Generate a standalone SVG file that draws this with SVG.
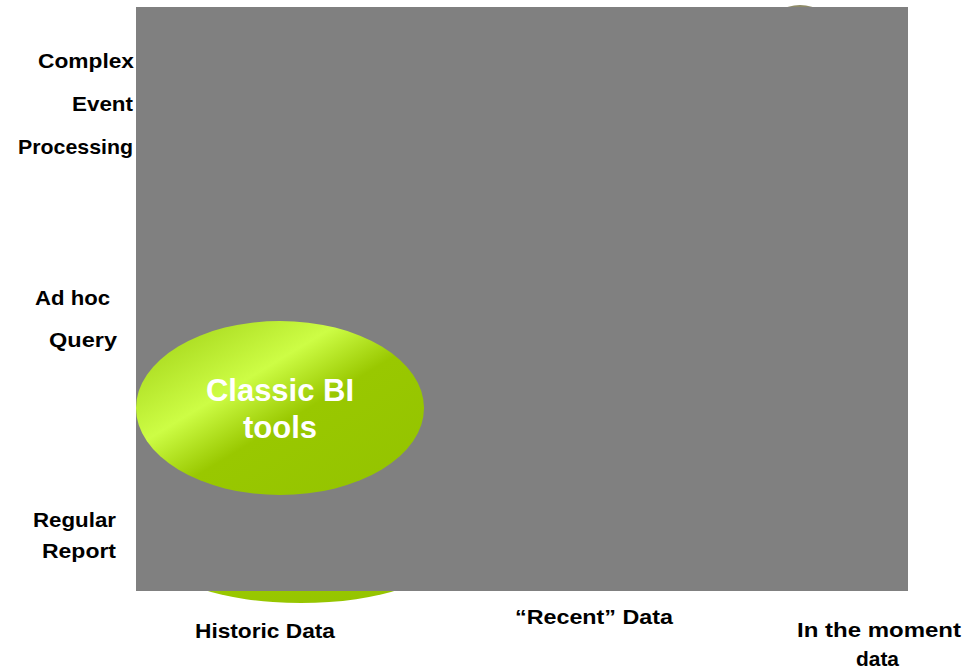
<svg xmlns="http://www.w3.org/2000/svg" width="974" height="672" viewBox="0 0 974 672">
<defs>
<linearGradient id="g" x1="0" y1="0" x2="1" y2="1">
<stop offset="0" stop-color="#9bcc10"/>
<stop offset="0.36" stop-color="#cdfd45"/>
<stop offset="0.55" stop-color="#99c800"/>
<stop offset="1" stop-color="#93c300"/>
</linearGradient>
<style>
.lbl{font-family:"Liberation Sans",Arial,sans-serif;font-weight:bold;font-size:21px;fill:#000}
.in{font-family:"Liberation Sans",Arial,sans-serif;font-weight:bold;font-size:31px;fill:#fff;text-anchor:middle}
</style>
</defs>
<rect width="974" height="672" fill="#fff"/>
<g id="bump-top"><ellipse cx="800" cy="90" rx="60" ry="85" fill="#8e8b68"/></g>
<g id="bottom-ellipse"><ellipse cx="301" cy="553" rx="144" ry="50" fill="url(#g)"/></g>
<g id="panel"><rect x="136" y="7" width="772" height="584" fill="#808080"/></g>
<g id="classic-bi">
<ellipse cx="280" cy="408" rx="144" ry="87" fill="url(#g)"/>
<text class="in" x="280" y="401">Classic BI</text>
<text class="in" x="280" y="438">tools</text>
</g>
<g id="y-labels">
<text class="lbl" x="38" y="68" textLength="96" lengthAdjust="spacingAndGlyphs">Complex</text>
<text class="lbl" x="72" y="111" textLength="61" lengthAdjust="spacingAndGlyphs">Event</text>
<text class="lbl" x="18" y="154" textLength="115" lengthAdjust="spacingAndGlyphs">Processing</text>
<text class="lbl" x="35" y="305" textLength="75" lengthAdjust="spacingAndGlyphs">Ad hoc</text>
<text class="lbl" x="49" y="347" textLength="68" lengthAdjust="spacingAndGlyphs">Query</text>
<text class="lbl" x="33" y="527" textLength="83" lengthAdjust="spacingAndGlyphs">Regular</text>
<text class="lbl" x="42" y="558" textLength="74" lengthAdjust="spacingAndGlyphs">Report</text>
</g>
<g id="x-labels">
<text class="lbl" x="195" y="638" textLength="140" lengthAdjust="spacingAndGlyphs">Historic Data</text>
<text class="lbl" x="515" y="624" textLength="158" lengthAdjust="spacingAndGlyphs">“Recent” Data</text>
<text class="lbl" x="797" y="637" textLength="164" lengthAdjust="spacingAndGlyphs">In the moment</text>
<text class="lbl" x="856" y="666" textLength="43" lengthAdjust="spacingAndGlyphs">data</text>
</g>
</svg>
